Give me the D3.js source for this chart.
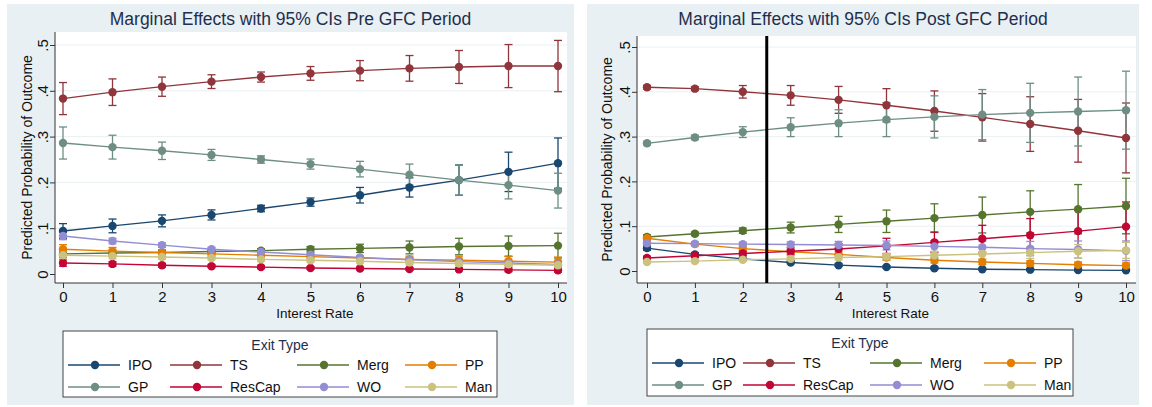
<!DOCTYPE html>
<html>
<head>
<meta charset="utf-8">
<script src="https://cdn.jsdelivr.net/npm/d3@7"></script>
<style>
  body { margin: 0; background: #fff; }
  text { font-family: "Liberation Sans", Arial, sans-serif; }
</style>
</head>
<body>
<div id="chart"></div>
<script>
const width = 1152;
const height = 407;

// categories / ticks
const rates = [0, 1, 2, 3, 4, 5, 6, 7, 8, 9, 10];
const y_ticks = [0, 0.1, 0.2, 0.3, 0.4, 0.5];
const exit_types = ['IPO', 'TS', 'Merg', 'PP', 'GP', 'ResCap', 'WO', 'Man'];
const titles = ['Marginal Effects with 95% CIs Pre GFC Period', 'Marginal Effects with 95% CIs Post GFC Period'];
const gfc_cut = 2.5;

// pre GFC: predicted probability and half width of 95% CI
const pre_ipo      = [0.094, 0.105, 0.116, 0.129, 0.143, 0.157, 0.172, 0.189, 0.205, 0.223, 0.242];
const pre_ipo_ci   = [0.016, 0.015, 0.013, 0.011, 0.007, 0.009, 0.017, 0.021, 0.033, 0.043, 0.055];
const pre_ts       = [0.383, 0.397, 0.409, 0.420, 0.430, 0.438, 0.444, 0.449, 0.452, 0.454, 0.454];
const pre_ts_ci    = [0.035, 0.029, 0.021, 0.015, 0.011, 0.015, 0.022, 0.028, 0.036, 0.047, 0.056];
const pre_merg     = [0.044, 0.046, 0.047, 0.049, 0.051, 0.054, 0.056, 0.058, 0.060, 0.061, 0.062];
const pre_merg_ci  = [0.008, 0.006, 0.005, 0.004, 0.004, 0.006, 0.009, 0.014, 0.018, 0.022, 0.027];
const pre_pp       = [0.054, 0.050, 0.047, 0.044, 0.041, 0.038, 0.035, 0.032, 0.030, 0.028, 0.026];
const pre_pp_ci    = [0.010, 0.008, 0.006, 0.005, 0.004, 0.004, 0.005, 0.007, 0.009, 0.010, 0.011];
const pre_gp       = [0.286, 0.277, 0.269, 0.260, 0.250, 0.240, 0.229, 0.217, 0.205, 0.194, 0.182];
const pre_gp_ci    = [0.035, 0.026, 0.019, 0.012, 0.008, 0.011, 0.017, 0.023, 0.033, 0.030, 0.038];
const pre_rescap   = [0.024, 0.022, 0.019, 0.017, 0.015, 0.013, 0.012, 0.011, 0.010, 0.009, 0.008];
const pre_rescap_ci= [0.007, 0.005, 0.004, 0.003, 0.003, 0.003, 0.003, 0.003, 0.003, 0.004, 0.004];
const pre_wo       = [0.083, 0.072, 0.063, 0.054, 0.048, 0.042, 0.036, 0.031, 0.027, 0.024, 0.021];
const pre_wo_ci    = [0.008, 0.006, 0.005, 0.004, 0.004, 0.004, 0.004, 0.005, 0.005, 0.006, 0.006];
const pre_man      = [0.041, 0.039, 0.037, 0.035, 0.032, 0.030, 0.028, 0.025, 0.023, 0.021, 0.019];
const pre_man_ci   = [0.008, 0.006, 0.005, 0.004, 0.004, 0.004, 0.004, 0.005, 0.005, 0.006, 0.007];

// post GFC
const post_ipo      = [0.051, 0.037, 0.027, 0.019, 0.013, 0.009, 0.006, 0.004, 0.003, 0.002, 0.0015];
const post_ipo_ci   = [0.005, 0.004, 0.003, 0.003, 0.003, 0.003, 0.003, 0.002, 0.002, 0.002, 0.002];
const post_ts       = [0.410, 0.407, 0.400, 0.392, 0.382, 0.370, 0.357, 0.343, 0.328, 0.313, 0.297];
const post_ts_ci    = [0.004, 0.004, 0.014, 0.022, 0.030, 0.037, 0.045, 0.053, 0.061, 0.070, 0.078];
const post_merg     = [0.076, 0.083, 0.090, 0.097, 0.104, 0.111, 0.118, 0.125, 0.132, 0.138, 0.145];
const post_merg_ci  = [0.005, 0.004, 0.006, 0.012, 0.018, 0.025, 0.032, 0.040, 0.047, 0.055, 0.062];
const post_pp       = [0.073, 0.060, 0.050, 0.043, 0.037, 0.030, 0.024, 0.020, 0.017, 0.014, 0.012];
const post_pp_ci    = [0.005, 0.004, 0.004, 0.005, 0.006, 0.006, 0.006, 0.006, 0.006, 0.006, 0.006];
const post_gp       = [0.285, 0.298, 0.310, 0.321, 0.330, 0.338, 0.344, 0.349, 0.353, 0.356, 0.359];
const post_gp_ci    = [0.004, 0.005, 0.012, 0.021, 0.030, 0.038, 0.047, 0.056, 0.066, 0.077, 0.087];
const post_rescap   = [0.029, 0.034, 0.039, 0.044, 0.049, 0.056, 0.064, 0.072, 0.080, 0.089, 0.099];
const post_rescap_ci= [0.004, 0.004, 0.005, 0.008, 0.012, 0.017, 0.023, 0.030, 0.037, 0.046, 0.055];
const post_wo       = [0.062, 0.061, 0.060, 0.059, 0.058, 0.057, 0.055, 0.053, 0.050, 0.048, 0.045];
const post_wo_ci    = [0.004, 0.003, 0.004, 0.006, 0.008, 0.010, 0.012, 0.014, 0.016, 0.019, 0.022];
const post_man      = [0.020, 0.022, 0.025, 0.027, 0.030, 0.032, 0.035, 0.038, 0.041, 0.044, 0.046];
const post_man_ci   = [0.003, 0.003, 0.003, 0.004, 0.005, 0.007, 0.009, 0.011, 0.013, 0.015, 0.018];

const pre_means = [pre_ipo, pre_ts, pre_merg, pre_pp, pre_gp, pre_rescap, pre_wo, pre_man];
const pre_cis = [pre_ipo_ci, pre_ts_ci, pre_merg_ci, pre_pp_ci, pre_gp_ci, pre_rescap_ci, pre_wo_ci, pre_man_ci];
const post_means = [post_ipo, post_ts, post_merg, post_pp, post_gp, post_rescap, post_wo, post_man];
const post_cis = [post_ipo_ci, post_ts_ci, post_merg_ci, post_pp_ci, post_gp_ci, post_rescap_ci, post_wo_ci, post_man_ci];

// stata s2color
const color_scale = d3.scaleOrdinal()
  .domain(exit_types)
  .range(['#1a476f', '#90353b', '#55752f', '#e37e00', '#6e8e84', '#c10534', '#938dd2', '#cac27e']);

const panels = [
  { x0: 7, x1: 574, left: 55, right: 567, top: 32, bottom: 283, xr: [63, 558], yr: [274, 45],
    legend: { x: 63, y: 331, w: 434, h: 66, cols: [5, 107, 234, 342] },
    means: pre_means, cis: pre_cis, title: titles[0], cut: false },
  { x0: 587, x1: 1139, left: 637, right: 1136, top: 36, bottom: 283, xr: [647, 1126], yr: [271, 47],
    legend: { x: 647, y: 329, w: 426, h: 67, cols: [5, 96, 223, 337] },
    means: post_means, cis: post_cis, title: titles[1], cut: true }
];

const svg = d3.select('#chart')
  .append('svg')
    .attr('width', width)
    .attr('height', height);

let fmt = d => d === 0 ? '0' : d3.format('.1f')(d).replace(/^0/, '');

panels.forEach(p => {
  const g = svg.append('g');
  const x = d3.scaleLinear().domain([0, 10]).range(p.xr);
  const y = d3.scaleLinear().domain([0, 0.5]).range(p.yr);

  g.append('rect')
    .attr('x', p.x0).attr('y', 4)
    .attr('width', p.x1 - p.x0).attr('height', 401)
    .attr('fill', '#e9f0f3');
  g.append('rect')
    .attr('x', p.left).attr('y', p.top)
    .attr('width', p.right - p.left).attr('height', p.bottom - p.top)
    .attr('fill', '#fff');

  // grid
  g.selectAll('.grid')
      .data(y_ticks.slice(1))
    .join('line')
      .attr('x1', p.left).attr('x2', p.right)
      .attr('y1', d => y(d)).attr('y2', d => y(d))
      .attr('stroke', '#eaf0f2')
      .attr('stroke-width', 1);

  g.append('text')
    .attr('x', (p.x0 + p.x1) / 2)
    .attr('y', 25)
    .attr('text-anchor', 'middle')
    .attr('font-size', 17.5)
    .attr('fill', '#1e2f4d')
    .text(p.title);

  // y axis
  const ya = g.append('g')
    .attr('transform', 'translate(' + p.left + ',0)')
    .call(d3.axisLeft(y).tickValues(y_ticks).tickFormat(fmt).tickSize(5).tickPadding(4));
  ya.select('.domain').remove();
  ya.selectAll('.tick line').attr('stroke', '#333');
  ya.selectAll('.tick text')
    .attr('font-size', 15)
    .attr('fill', '#111')
    .attr('text-anchor', 'middle')
    .attr('x', null).attr('dy', '0.35em')
    .attr('transform', 'translate(-12,0) rotate(-90)');
  g.append('line')
    .attr('x1', p.left).attr('x2', p.left)
    .attr('y1', p.top).attr('y2', p.bottom)
    .attr('stroke', '#333');
  g.append('text')
    .attr('transform', 'translate(' + (p.x0 + 25) + ',' + ((p.top + p.bottom) / 2) + ') rotate(-90)')
    .attr('text-anchor', 'middle')
    .attr('font-size', 14)
    .attr('fill', '#111')
    .text('Predicted Probability of Outcome');

  // x axis
  const xa = g.append('g')
    .attr('transform', 'translate(0,' + p.bottom + ')')
    .call(d3.axisBottom(x).tickValues(rates).tickSize(5).tickPadding(3));
  xa.select('.domain').remove();
  xa.selectAll('.tick line').attr('stroke', '#333');
  xa.selectAll('.tick text').attr('font-size', 15).attr('fill', '#111');
  g.append('line')
    .attr('x1', p.left).attr('x2', p.right)
    .attr('y1', p.bottom).attr('y2', p.bottom)
    .attr('stroke', '#333');
  g.append('text')
    .attr('x', (p.left + p.right) / 2 + 4)
    .attr('y', 318)
    .attr('text-anchor', 'middle')
    .attr('font-size', 13.5)
    .attr('fill', '#111')
    .text('Interest Rate');

  // CIs first
  exit_types.forEach((name, i) => {
    const rows = rates.map((r, j) => ({ r: r, m: p.means[i][j], c: p.cis[i][j] }));
    const cg = g.append('g').attr('stroke', color_scale(name)).attr('stroke-width', 1.3);
    cg.selectAll('line.v')
        .data(rows)
      .join('line')
        .attr('x1', d => x(d.r)).attr('x2', d => x(d.r))
        .attr('y1', d => y(d.m - d.c)).attr('y2', d => y(d.m + d.c));
    cg.selectAll('line.lo')
        .data(rows)
      .join('line')
        .attr('x1', d => x(d.r) - 4).attr('x2', d => x(d.r) + 4)
        .attr('y1', d => y(d.m - d.c)).attr('y2', d => y(d.m - d.c));
    cg.selectAll('line.hi')
        .data(rows)
      .join('line')
        .attr('x1', d => x(d.r) - 4).attr('x2', d => x(d.r) + 4)
        .attr('y1', d => y(d.m + d.c)).attr('y2', d => y(d.m + d.c));
  });

  // lines and markers
  exit_types.forEach((name, i) => {
    const rows = rates.map((r, j) => ({ r: r, m: p.means[i][j] }));
    g.append('path')
      .datum(rows)
      .attr('fill', 'none')
      .attr('stroke', color_scale(name))
      .attr('stroke-width', 1.4)
      .attr('d', d3.line().x(d => x(d.r)).y(d => y(d.m)));
    g.selectAll(null)
        .data(rows)
      .join('circle')
        .attr('cx', d => x(d.r))
        .attr('cy', d => y(d.m))
        .attr('r', 4.2)
        .attr('fill', color_scale(name));
  });

  if (p.cut) {
    g.append('line')
      .attr('x1', x(gfc_cut)).attr('x2', x(gfc_cut))
      .attr('y1', p.top).attr('y2', p.bottom)
      .attr('stroke', '#000')
      .attr('stroke-width', 3);
  }

  // legend
  const L = p.legend;
  const lg = g.append('g').attr('transform', 'translate(' + L.x + ',' + L.y + ')');
  lg.append('rect')
    .attr('width', L.w).attr('height', L.h)
    .attr('fill', '#fff')
    .attr('stroke', '#444');
  lg.append('text')
    .attr('x', L.w / 2).attr('y', 19)
    .attr('text-anchor', 'middle')
    .attr('font-size', 14)
    .attr('fill', '#1e2f4d')
    .text('Exit Type');
  exit_types.forEach((name, i) => {
    const cx = L.cols[i % 4];
    const cy = i < 4 ? 34 : 56;
    lg.append('line')
      .attr('x1', cx).attr('x2', cx + 52)
      .attr('y1', cy).attr('y2', cy)
      .attr('stroke', color_scale(name))
      .attr('stroke-width', 1.4);
    lg.append('circle')
      .attr('cx', cx + 27).attr('cy', cy)
      .attr('r', 4.2)
      .attr('fill', color_scale(name));
    lg.append('text')
      .attr('x', cx + 60).attr('y', cy + 5)
      .attr('font-size', 14)
      .attr('fill', '#111')
      .text(name);
  });
});
</script>
</body>
</html>
